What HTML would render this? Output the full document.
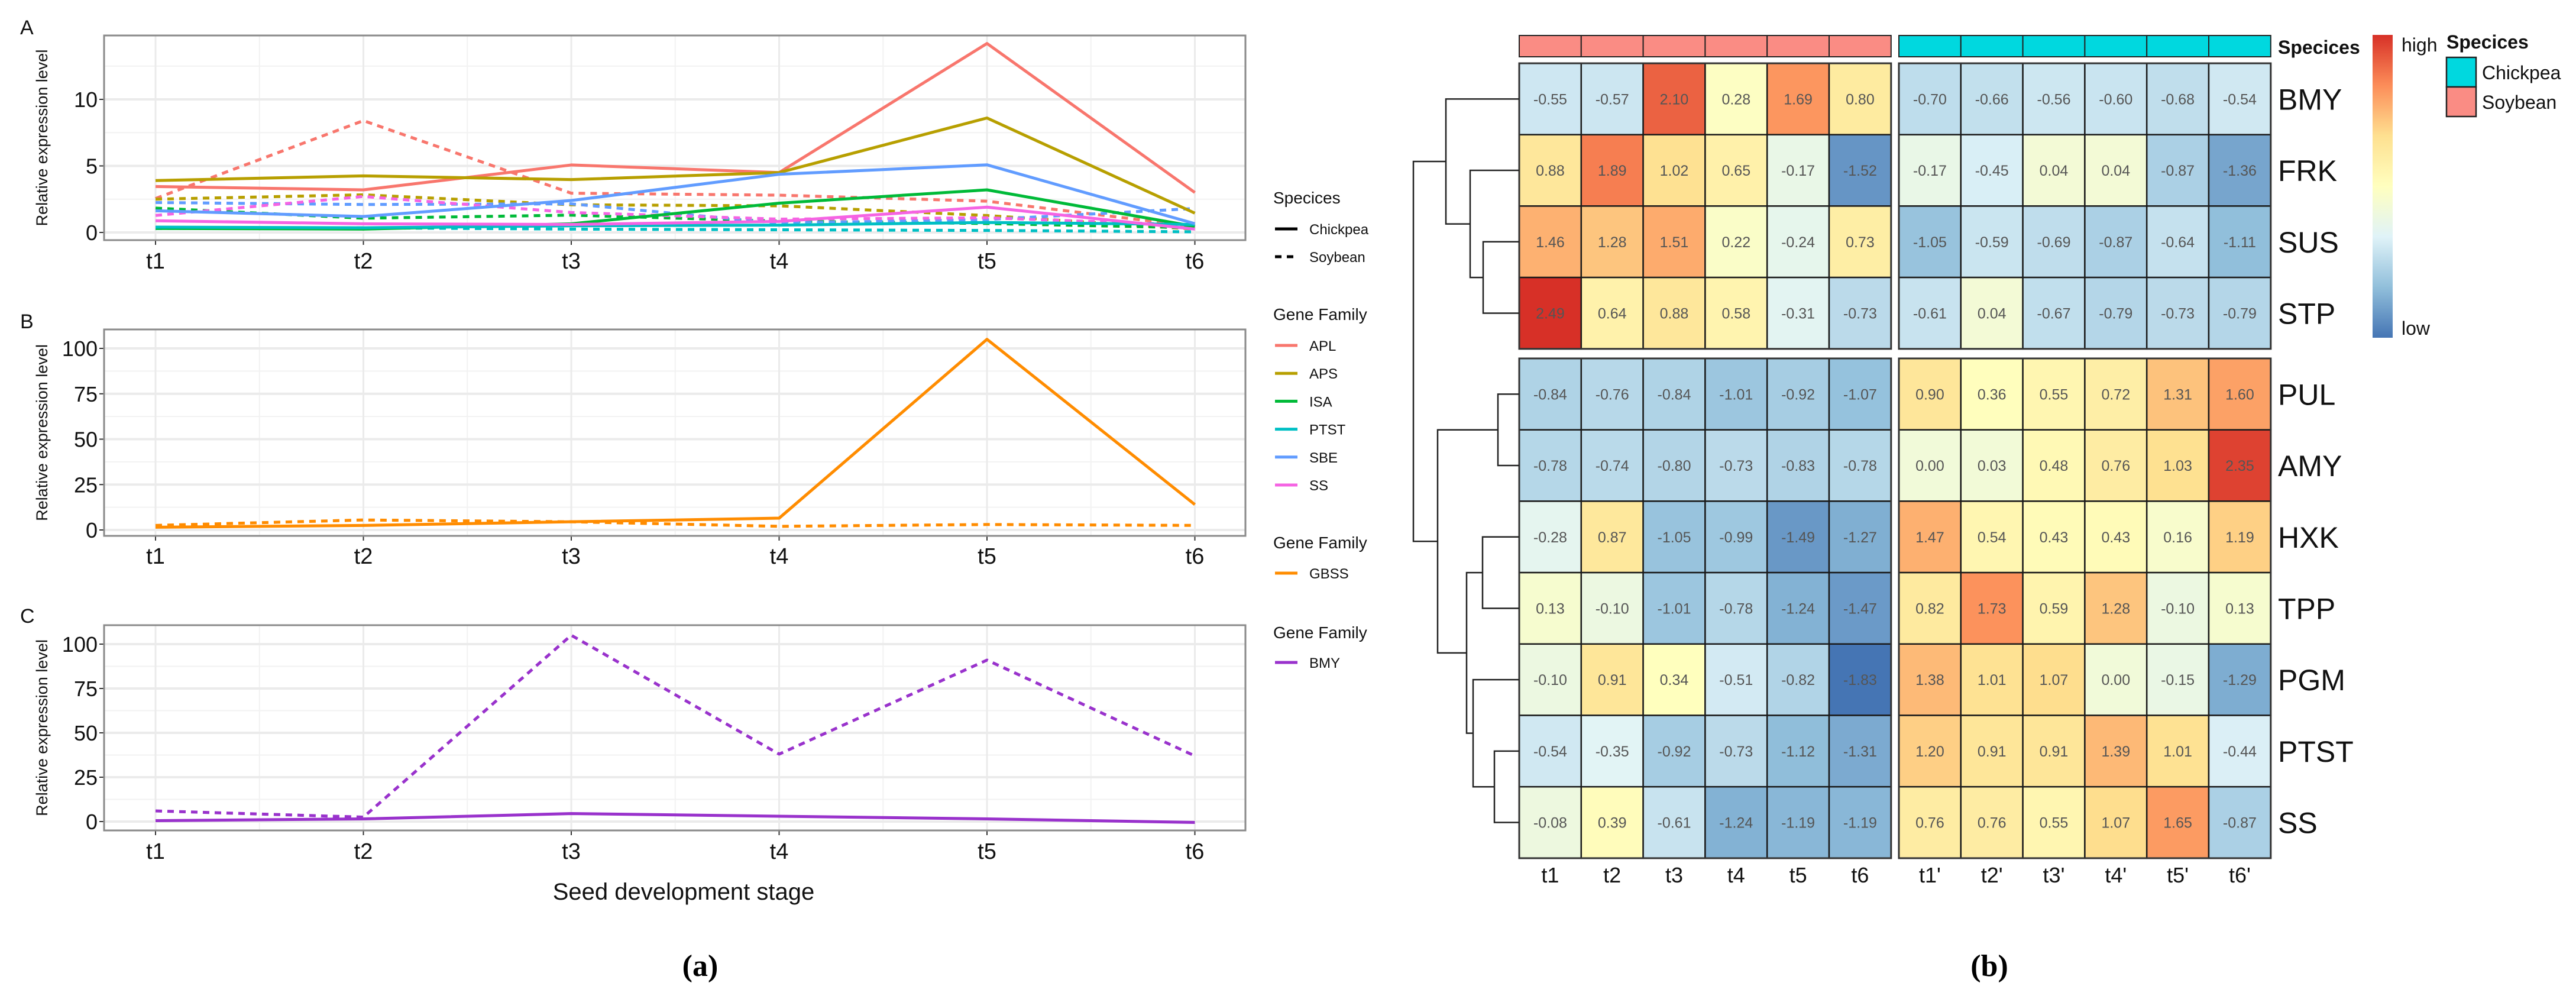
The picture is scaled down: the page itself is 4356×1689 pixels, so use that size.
<!DOCTYPE html>
<html><head><meta charset="utf-8"><style>
html,body{margin:0;padding:0;background:#fff;}
svg{display:block;font-family:"Liberation Sans",sans-serif;}
</style></head><body>
<svg id="fig" width="4356" height="1689" viewBox="0 0 4356 1689" xmlns="http://www.w3.org/2000/svg">
<rect width="4356" height="1689" fill="#fff"/>
<g id="left"></g><g id="right"></g>
</svg>
<script>
// ---------- Panel (a) data ----------
const stages = ["t1","t2","t3","t4","t5","t6"];
const familiesA = ["APL","APS","ISA","PTST","SBE","SS"];
const colorsA = ["#F8766D","#B79F00","#00BA38","#00BFC4","#619CFF","#F564E3"];
const chickAPL = [3.45,3.2,5.07,4.5,14.2,3.0];
const chickAPS = [3.9,4.25,3.97,4.5,8.6,1.45];
const chickISA = [0.3,0.25,0.65,2.2,3.2,0.45];
const chickPTST = [0.4,0.35,0.5,0.55,0.75,0.6];
const chickSBE = [1.63,1.2,2.4,4.37,5.08,0.66];
const chickSS = [0.88,0.65,0.6,0.83,1.9,0.25];
const soyAPL = [2.55,8.4,2.95,2.8,2.35,0.45];
const soyAPS = [2.5,2.83,2.08,2.0,1.27,0.25];
const soyISA = [1.83,1.07,1.3,0.85,0.67,0.35];
const soyPTST = [0.3,0.35,0.25,0.2,0.15,0.05];
const soySBE = [2.25,2.1,2.15,0.7,0.97,1.8];
const soySS = [1.28,2.7,1.5,1.0,1.1,0.55];
const chickGBSS = [1.5,2.5,4.5,6.5,105,14];
const soyGBSS = [2.5,5.5,4.5,2,3,2.5];
const chickBMY = [0.5,1.5,4.5,3,1.5,-0.5];
const soyBMY = [6,2.5,105,38,91,37];
const ticksA = [0,5,10];
const ticksBC = [0,25,50,75,100];

// ---------- Panel (b) data ----------
const genes = ["BMY","FRK","SUS","STP","PUL","AMY","HXK","TPP","PGM","PTST","SS"];
const cols = ["t1","t2","t3","t4","t5","t6","t1'","t2'","t3'","t4'","t5'","t6'"];
const rowBMY = [-0.55,-0.57,2.10,0.28,1.69,0.80,-0.70,-0.66,-0.56,-0.60,-0.68,-0.54];
const rowFRK = [0.88,1.89,1.02,0.65,-0.17,-1.52,-0.17,-0.45,0.04,0.04,-0.87,-1.36];
const rowSUS = [1.46,1.28,1.51,0.22,-0.24,0.73,-1.05,-0.59,-0.69,-0.87,-0.64,-1.11];
const rowSTP = [2.49,0.64,0.88,0.58,-0.31,-0.73,-0.61,0.04,-0.67,-0.79,-0.73,-0.79];
const rowPUL = [-0.84,-0.76,-0.84,-1.01,-0.92,-1.07,0.90,0.36,0.55,0.72,1.31,1.60];
const rowAMY = [-0.78,-0.74,-0.80,-0.73,-0.83,-0.78,0.00,0.03,0.48,0.76,1.03,2.35];
const rowHXK = [-0.28,0.87,-1.05,-0.99,-1.49,-1.27,1.47,0.54,0.43,0.43,0.16,1.19];
const rowTPP = [0.13,-0.10,-1.01,-0.78,-1.24,-1.47,0.82,1.73,0.59,1.28,-0.10,0.13];
const rowPGM = [-0.10,0.91,0.34,-0.51,-0.82,-1.83,1.38,1.01,1.07,0.00,-0.15,-1.29];
const rowPTST = [-0.54,-0.35,-0.92,-0.73,-1.12,-1.31,1.20,0.91,0.91,1.39,1.01,-0.44];
const rowSS = [-0.08,0.39,-0.61,-1.24,-1.19,-1.19,0.76,0.76,0.55,1.07,1.65,-0.87];

const NS="http://www.w3.org/2000/svg";
function el(tag,attrs,parent,text){const e=document.createElementNS(NS,tag);for(const k in attrs)e.setAttribute(k,attrs[k]);if(text!==undefined)e.textContent=text;parent.appendChild(e);return e;}
const L=document.getElementById('left'), R=document.getElementById('right');

// ---------- line panels ----------
const X0=263, DX=351.5;
function xs(i){return X0+i*DX;}
function panel(cfg){
  const g=el('g',{},L);
  
  
  const top=cfg.top,bot=cfg.bot,left=176,right=2106;
  const ys=v=>cfg.y0+(v*(cfg.y1-cfg.y0)/cfg.v1);
  el('rect',{x:left,y:top,width:right-left,height:bot-top,fill:'#fff'},g);
  for(let i=0;i<5;i++){el('line',{x1:(xs(i)+xs(i+1))/2,x2:(xs(i)+xs(i+1))/2,y1:top,y2:bot,stroke:'#F2F2F2','stroke-width':2},g);}
  const st=cfg.ticks[1]-cfg.ticks[0];
  for(let v=cfg.ticks[0]-st/2;v<cfg.vmax;v+=st){const y=ys(v);if(y>top&&y<bot)el('line',{x1:left,x2:right,y1:y,y2:y,stroke:'#F2F2F2','stroke-width':2},g);}
  for(let i=0;i<6;i++)el('line',{x1:xs(i),x2:xs(i),y1:top,y2:bot,stroke:'#EBEBEB','stroke-width':3},g);
  cfg.ticks.forEach(v=>{const y=ys(v);el('line',{x1:left,x2:right,y1:y,y2:y,stroke:'#EBEBEB','stroke-width':4},g);
    const t=el('text',{x:165,y:y+13,'font-size':36,'text-anchor':'end',fill:'#111'},g,String(v));
    
    el('line',{x1:168,x2:176,y1:y,y2:y,stroke:'#333','stroke-width':2},g);});
  stages.forEach((s,i)=>{el('line',{x1:xs(i),x2:xs(i),y1:bot,y2:bot+8,stroke:'#333','stroke-width':2},g);
    const t=el('text',{x:xs(i),y:cfg.labY,'font-size':38,'text-anchor':'middle',fill:'#111'},g,s);
    });
  cfg.series.forEach(sr=>{
    const pts=sr.data.map((v,i)=>xs(i)+','+ys(v)).join(' ');
    const p=el('polyline',{points:pts,fill:'none',stroke:sr.color,'stroke-width':5,'stroke-linejoin':'round'},g);
    if(sr.dash)p.setAttribute('stroke-dasharray','11 9');
    
  });
  el('rect',{x:left,y:top,width:right-left,height:bot-top,fill:'none',stroke:'#8A8A8A','stroke-width':3},g);
  const yt=el('text',{x:0,y:0,'font-size':27,'text-anchor':'middle',fill:'#111',transform:`translate(80,${(top+bot)/2}) rotate(-90)`},g,'Relative expression level');
  
  const pl=el('text',{x:34,y:cfg.plY,'font-size':34,fill:'#111'},g,cfg.label);
  
}
const chickA=[chickAPL,chickAPS,chickISA,chickPTST,chickSBE,chickSS];
const soyA=[soyAPL,soyAPS,soyISA,soyPTST,soySBE,soySS];
const serA=[];
familiesA.forEach((f,i)=>serA.push({data:soyA[i],color:colorsA[i],dash:true,n:'line-soybean-'+f.toLowerCase()}));
familiesA.forEach((f,i)=>serA.push({data:chickA[i],color:colorsA[i],dash:false,n:'line-chickpea-'+f.toLowerCase()}));
panel({name:'panel-a',top:60,bot:406,y0:393,y1:168,v1:10,vmax:15,ticks:ticksA,labY:454,plY:58,label:'A',series:serA});
panel({name:'panel-b',top:557,bot:906,y0:896,y1:589,v1:100,vmax:110,ticks:ticksBC,labY:953,plY:555,label:'B',
  series:[{data:soyGBSS,color:'#FF8C00',dash:true,n:'line-soybean-gbss'},{data:chickGBSS,color:'#FF8C00',dash:false,n:'line-chickpea-gbss'}]});
panel({name:'panel-c',top:1057,bot:1404,y0:1389,y1:1089,v1:100,vmax:110,ticks:ticksBC,labY:1452,plY:1053,label:'C',
  series:[{data:soyBMY,color:'#9932CC',dash:true,n:'line-soybean-bmy'},{data:chickBMY,color:'#9932CC',dash:false,n:'line-chickpea-bmy'}]});
const xt=el('text',{x:1156,y:1521,'font-size':40,'text-anchor':'middle',fill:'#111'},L,'Seed development stage');

const ca=el('text',{x:1184,y:1650,'font-size':52,'text-anchor':'middle','font-family':'Liberation Serif, serif','font-weight':'bold',fill:'#000'},L,'(a)');


// legends (a)
function legTitle(y,t){const e=el('text',{x:2153,y:y,'font-size':28,fill:'#111'},L,t);}
function legItem(y,t,color,dash){
  const g=el('g',{},L);
  
  const l=el('line',{x1:2156,x2:2194,y1:y,y2:y,stroke:color,'stroke-width':5},g);if(dash)l.setAttribute('stroke-dasharray','11 9');
  el('text',{x:2214,y:y+9,'font-size':24,fill:'#111'},g,t);}
legTitle(344,'Specices');legItem(387,'Chickpea','#000',false);legItem(434,'Soybean','#000',true);
legTitle(541,'Gene Family');familiesA.forEach((f,i)=>legItem(584+i*47.2,f,colorsA[i],false));
legTitle(927,'Gene Family');legItem(969,'GBSS','#FF8C00',false);
legTitle(1079,'Gene Family');legItem(1120,'BMY','#9932CC',false);

// ---------- heatmap ----------
const rowsData=[rowBMY,rowFRK,rowSUS,rowSTP,rowPUL,rowAMY,rowHXK,rowTPP,rowPGM,rowPTST,rowSS];
const pal=["#4575B4","#91BFDB","#E0F3F8","#FFFFBF","#FEE090","#FC8D59","#D73027"];
function hex(h){return [1,3,5].map(i=>parseInt(h.substr(i,2),16));}
let vmin=Infinity,vmax=-Infinity;rowsData.forEach(r=>r.forEach(v=>{vmin=Math.min(vmin,v);vmax=Math.max(vmax,v);}));
function col(v){let t=(v-vmin)/(vmax-vmin)*(pal.length-1);let i=Math.min(Math.floor(t),pal.length-2);let f=t-i;const a=hex(pal[i]),b=hex(pal[i+1]);return 'rgb('+a.map((c,k)=>Math.round(c+(b[k]-c)*f)).join(',')+')';}
const CW=104.8, RH=120.7;
const blockX=[2569,3211];
function cx(j){return blockX[j<6?0:1]+(j%6)*CW;}
function rowY(i){return i<4?107+i*RH:606+(i-4)*RH;}
cols.forEach((c,j)=>{const r=el('rect',{x:cx(j),y:60,width:CW,height:36,fill:j<6?'#FA8C84':'#00D8DF',stroke:'#222','stroke-width':2},R);
  });
const sl=el('text',{x:3852,y:91,'font-size':32,'font-weight':'bold',fill:'#111'},R,'Specices');

rowsData.forEach((row,i)=>{
  row.forEach((v,j)=>{
    const g=el('g',{},R);
    
    const y=rowY(i);
    el('rect',{x:cx(j),y:y,width:CW,height:RH,fill:col(v),stroke:'#1a1a1a','stroke-width':2.5},g);
    el('text',{x:cx(j)+CW/2,y:y+RH/2+9,'font-size':25,'text-anchor':'middle',fill:'#555'},g,v.toFixed(2));
  });
  const t=el('text',{x:3852,y:rowY(i)+RH/2+18,'font-size':50,fill:'#111'},R,genes[i]);
  
});
[[107,4],[606,7]].forEach(([y,n])=>blockX.forEach(x=>el('rect',{x:x,y:y,width:6*CW,height:n*RH,fill:'none',stroke:'#333','stroke-width':3},R)));
cols.forEach((c,j)=>{const t=el('text',{x:cx(j)+CW/2,y:1492,'font-size':36,'text-anchor':'middle',fill:'#111'},R,c);
  });
const rc=i=>rowY(i)+RH/2;
function U(x,y1,y2,xl1,xl2){el('path',{d:`M${xl1},${y1}H${x}V${y2}H${xl2}`,fill:'none',stroke:'#222','stroke-width':2.5},R);}
const leaf=2569;
U(2508,rc(2),rc(3),leaf,leaf);
U(2486,rc(1),(rc(2)+rc(3))/2,leaf,2508);
U(2445,rc(0),(rc(1)+(rc(2)+rc(3))/2)/2,leaf,2486);
const topMid=(rc(0)+(rc(1)+(rc(2)+rc(3))/2)/2)/2;
U(2533,rc(4),rc(5),leaf,leaf);
U(2507,rc(6),rc(7),leaf,leaf);
U(2527,rc(9),rc(10),leaf,leaf);
const m1=(rc(9)+rc(10))/2;
U(2491,rc(8),m1,leaf,2527);
const m2=(rc(8)+m1)/2, m3=(rc(6)+rc(7))/2;
U(2480,m3,m2,2507,2491);
const m4=(m3+m2)/2, m5=(rc(4)+rc(5))/2;
U(2431,m5,m4,2533,2480);
const m6=(m5+m4)/2;
U(2390,topMid,m6,2445,2431);
const defs=el('defs',{},R);const lg=el('linearGradient',{id:'cb',x1:0,y1:1,x2:0,y2:0},defs);
pal.forEach((c,i)=>el('stop',{offset:i/(pal.length-1),'stop-color':c},lg));
const cb=el('rect',{x:4012,y:59,width:34,height:512,fill:'url(#cb)'},R);

el('text',{x:4061,y:87,'font-size':32,fill:'#111'},R,'high');
el('text',{x:4061,y:566,'font-size':32,fill:'#111'},R,'low');
const lt=el('text',{x:4137,y:82,'font-size':32,'font-weight':'bold',fill:'#111'},R,'Specices');

el('rect',{x:4137,y:97,width:50,height:50,fill:'#00D8DF',stroke:'#222','stroke-width':2.5},R);
el('rect',{x:4137,y:147,width:50,height:50,fill:'#FA8C84',stroke:'#222','stroke-width':2.5},R);
el('text',{x:4197,y:134,'font-size':32,fill:'#111'},R,'Chickpea');
el('text',{x:4197,y:184,'font-size':32,fill:'#111'},R,'Soybean');
const cbp=el('text',{x:3364,y:1650,'font-size':52,'text-anchor':'middle','font-family':'Liberation Serif, serif','font-weight':'bold',fill:'#000'},R,'(b)');

</script>
</body></html>
